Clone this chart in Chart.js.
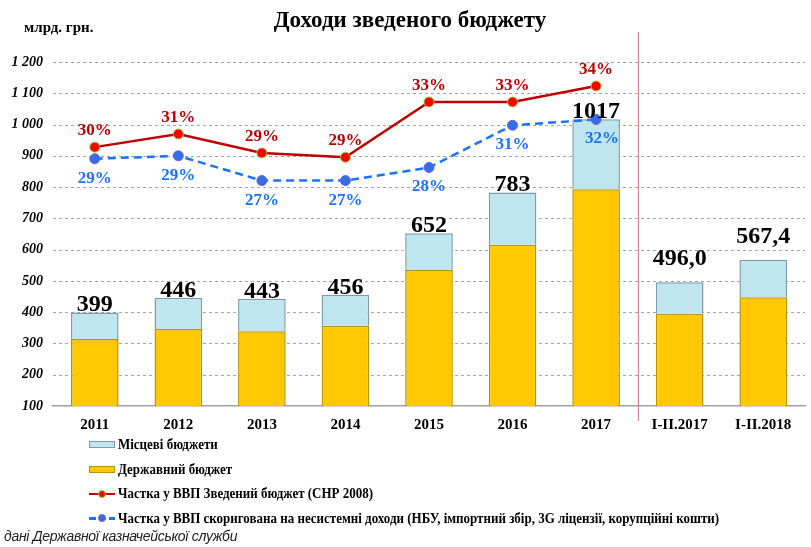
<!DOCTYPE html>
<html>
<head>
<meta charset="utf-8">
<script src="https://cdn.jsdelivr.net/npm/chart.js@4"></script>
<style>
  body { margin: 0; background: #fff; }
  #wrap { position: relative; width: 811px; height: 547px; overflow: hidden; }
  #chart { position: absolute; left: 0; top: 0; }
  .title { position: absolute; left: 0; width: 820px; top: 7px; text-align: center;
    font: bold 23px "Liberation Serif", serif; color: #000; }
  .unit { position: absolute; left: 24px; top: 19px; font: bold 15px "Liberation Serif", serif; }
  .legend { position: absolute; left: 89px; top: 432px; }
  .legend .row { height: 24.7px; display: flex; align-items: center; white-space: nowrap; }
  .legend .icon { width: 26px; height: 10px; position: relative; }
  .legend .txt { font: bold 15px "Liberation Serif", serif; transform: scaleX(0.865);
    transform-origin: left center; margin-left: 3px; }
  .note { position: absolute; left: 4px; top: 528px; font: italic 14px "Liberation Sans", sans-serif;
    letter-spacing: -0.3px; color: #222; }
</style>
</head>
<body>
<div id="wrap">
  <canvas id="chart" width="811" height="440"></canvas>
  <div class="title">Доходи зведеного бюджету</div>
  <div class="unit">млрд. грн.</div>
  <div class="legend" id="legend"></div>
  <div class="note">дані Державної казначейської служби</div>
</div>
<script>
  const categories = ['2011', '2012', '2013', '2014', '2015', '2016', '2017', 'I-II.2017', 'I-II.2018'];

  // млрд. грн.
  const stateBudget = [314, 346, 339, 357, 535, 616, 793, 395, 448];
  const localBudgets = [85, 100, 104, 99, 117, 167, 224, 101, 119.4];
  const totalLabels = ['399', '446', '443', '456', '652', '783', '1017', '496,0', '567,4'];

  // частка у ВВП, %
  const shareGdp = [29.7, 30.6, 29.3, 29.0, 32.8, 32.8, 33.9, null, null];
  const shareAdjusted = [28.9, 29.1, 27.4, 27.4, 28.3, 31.2, 31.6, null, null];

  const yTicks = { min: 100, max: 1200, step: 100 };

  const RED = '#c00000';
  const BLUE = '#1a73ff';

  const fmtThousands = v => String(v).replace(/\B(?=(\d{3})+(?!\d))/g, ' ');

  // пунктирна сітка
  const gridPlugin = {
    id: 'dashGrid',
    beforeDatasetsDraw(chart) {
      const c = chart.ctx;
      const y = chart.scales.y;
      const area = chart.chartArea;
      c.save();
      c.strokeStyle = '#a6a6a6';
      c.lineWidth = 1;
      c.setLineDash([3, 3]);
      y.ticks.forEach(t => {
        if (t.value === yTicks.min) return;
        const py = Math.round(y.getPixelForValue(t.value)) + 0.5;
        c.beginPath();
        c.moveTo(area.left, py);
        c.lineTo(area.right, py);
        c.stroke();
      });
      c.restore();
    }
  };

  // підписи, роздільник
  const labelsPlugin = {
    id: 'labels',
    afterDatasetsDraw(chart) {
      const c = chart.ctx;
      const x = chart.scales.x;

      // червона вертикальна лінія між роками і періодами
      const sepX = (x.getPixelForValue(6) + x.getPixelForValue(7)) / 2;
      c.save();
      c.strokeStyle = '#d9727a';
      c.lineWidth = 1;
      c.beginPath();
      c.moveTo(sepX + 0.5, 32);
      c.lineTo(sepX + 0.5, 421);
      c.stroke();

      // підсумки над стовпчиками
      const topMeta = chart.getDatasetMeta(1);
      c.font = 'bold 24px "Liberation Serif", serif';
      c.fillStyle = '#000';
      c.textAlign = 'center';
      c.textBaseline = 'alphabetic';
      topMeta.data.forEach((bar, i) => {
        const off = i >= 7 ? 17 : 1;
        c.fillText(totalLabels[i], bar.x, bar.y - off);
      });

      // відсотки
      c.font = 'bold 17px "Liberation Serif", serif';
      const redMeta = chart.getDatasetMeta(2);
      c.fillStyle = RED;
      redMeta.data.forEach((pt, i) => {
        if (shareGdp[i] == null) return;
        c.fillText(Math.round(shareGdp[i]) + '%', pt.x, pt.y - 12);
      });
      const blueMeta = chart.getDatasetMeta(3);
      c.fillStyle = BLUE;
      blueMeta.data.forEach((pt, i) => {
        if (shareAdjusted[i] == null) return;
        c.fillText(Math.round(shareAdjusted[i]) + '%', pt.x + (i === 6 ? 6 : 0), pt.y + 24);
      });
      c.restore();
    }
  };

  const ctx = document.getElementById('chart').getContext('2d');
  const chart = new Chart(ctx, {
    type: 'bar',
    data: {
      labels: categories,
      datasets: [
        {
          label: 'Державний бюджет',
          data: stateBudget,
          backgroundColor: '#ffc800',
          borderColor: '#b99300',
          borderWidth: 1.5,
          barPercentage: 0.57,
          categoryPercentage: 1,
          order: 1
        },
        {
          label: 'Місцеві бюджети',
          data: localBudgets,
          backgroundColor: '#bfe6ef',
          borderColor: '#7f9ca6',
          borderWidth: 1.5,
          barPercentage: 0.57,
          categoryPercentage: 1,
          order: 1
        },
        {
          type: 'line',
          label: 'Частка у ВВП Зведений бюджет (СНР 2008)',
          data: shareGdp,
          yAxisID: 'y2',
          borderColor: RED,
          borderWidth: 2.5,
          pointRadius: 5,
          pointBackgroundColor: '#ff0000',
          pointBorderColor: '#9acd32',
          pointBorderWidth: 1,
          tension: 0,
          order: 0
        },
        {
          type: 'line',
          label: 'Частка у ВВП скоригована на несистемні доходи (НБУ, імпортний збір, 3G ліцензії, корупційні кошти)',
          data: shareAdjusted,
          yAxisID: 'y2',
          borderColor: BLUE,
          borderWidth: 2.5,
          borderDash: [8, 5],
          pointRadius: 5,
          pointBackgroundColor: '#2f6fef',
          pointBorderColor: '#7f5fc0',
          pointBorderWidth: 1,
          tension: 0,
          order: 0
        }
      ]
    },
    options: {
      responsive: false,
      animation: false,
      layout: { padding: { top: 62, right: 3, left: 0, bottom: 0 } },
      plugins: {
        legend: { display: false },
        tooltip: { enabled: false }
      },
      scales: {
        x: {
          stacked: true,
          grid: { display: false },
          border: { display: true, color: '#a0a0a0', width: 1.5 },
          ticks: {
            color: '#000',
            padding: 2,
            font: { family: '"Liberation Serif", serif', weight: 'bold', size: 15 }
          },
          afterFit: s => { s.height = 34; }
        },
        y: {
          stacked: true,
          min: yTicks.min,
          max: yTicks.max,
          ticks: {
            stepSize: yTicks.step,
            color: '#000',
            padding: 2,
            font: { family: '"Liberation Serif", serif', weight: 'bold', style: 'italic', size: 14 },
            callback: v => fmtThousands(v)
          },
          grid: { display: false },
          border: { display: false },
          afterFit: s => { s.width = 53; }
        },
        y2: {
          display: false,
          min: 11.91,
          max: 35.55
        }
      }
    },
    plugins: [gridPlugin, labelsPlugin]
  });

  // легенда у стовпчик
  const legendEl = document.getElementById('legend');
  const legendOrder = [1, 0, 2, 3];
  legendOrder.forEach(i => {
    const ds = chart.data.datasets[i];
    const row = document.createElement('div');
    row.className = 'row';
    let icon;
    if (ds.type === 'line') {
      const dash = ds.borderDash ? `background: repeating-linear-gradient(90deg, ${ds.borderColor} 0 7px, transparent 7px 10px);` : `background:${ds.borderColor};`;
      icon = `<div class="icon"><div style="position:absolute;left:0;top:4px;width:26px;height:2.5px;${dash}"></div>` +
        `<div style="position:absolute;left:9px;top:1px;width:8px;height:8px;border-radius:50%;background:${ds.pointBackgroundColor};border:1px solid ${ds.pointBorderColor};box-sizing:border-box"></div></div>`;
    } else {
      icon = `<div class="icon"><div style="position:absolute;left:0;top:2px;width:26px;height:7px;background:${ds.backgroundColor};border:1px solid ${ds.borderColor};box-sizing:border-box"></div></div>`;
    }
    row.innerHTML = icon + `<span class="txt">${ds.label}</span>`;
    legendEl.appendChild(row);
  });
</script>
</body>
</html>
